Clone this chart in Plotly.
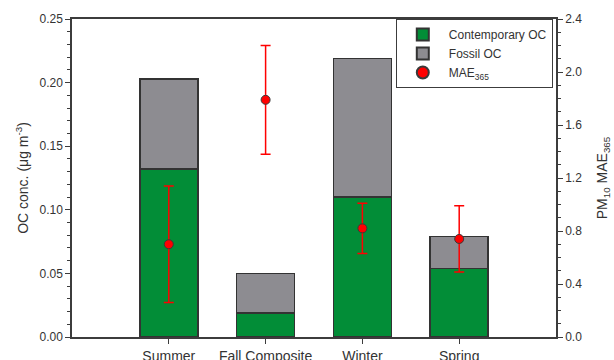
import plotly.graph_objects as go

# Seasonal organic carbon split and PM10 absorption (MAE365)
seasons = ["Summer", "Fall Composite", "Winter", "Spring"]
contemporary_oc = [0.132, 0.019, 0.110, 0.054]
fossil_oc = [0.071, 0.031, 0.109, 0.025]
mae365 = [0.70, 1.79, 0.82, 0.74]
mae365_err = [0.44, 0.41, 0.19, 0.25]

FONT = "Liberation Sans, Arial, sans-serif"
AXIS_COLOR = "#3c3c3c"
TEXT_COLOR = "#333333"

fig = go.Figure()

fig.add_trace(go.Bar(
    x=seasons, y=contemporary_oc, name="Contemporary OC",
    marker=dict(color="#028d37", line=dict(color="#333333", width=1.5)),
    width=0.6,
))
fig.add_trace(go.Bar(
    x=seasons, y=fossil_oc, name="Fossil OC",
    marker=dict(color="#8d8c91", line=dict(color="#333333", width=1.5)),
    width=0.6,
))
fig.add_trace(go.Scatter(
    x=seasons, y=mae365, name="MAE<sub>365</sub>", yaxis="y2",
    mode="markers",
    marker=dict(color="#ff0000", size=9, line=dict(color="#3a3a3a", width=1)),
    error_y=dict(type="data", array=mae365_err, color="#ff0000",
                 thickness=1.5, width=5),
))

fig.update_layout(
    width=614, height=360,
    margin=dict(l=72, r=58, t=19, b=23),
    paper_bgcolor="white", plot_bgcolor="white",
    barmode="stack",
    font=dict(family=FONT, color=TEXT_COLOR, size=12),
    showlegend=True,
    legend=dict(
        x=0.669, y=1.0, xanchor="left", yanchor="top",
        traceorder="normal",
        bgcolor="white", bordercolor="#3c3c3c", borderwidth=1,
        font=dict(size=12, family=FONT, color=TEXT_COLOR),
        itemsizing="constant", itemwidth=42,
    ),
    xaxis=dict(
        type="category", range=[-1, 4], automargin=False,
        showline=True, linecolor=AXIS_COLOR, linewidth=1.5, mirror=True,
        ticks="outside", ticklen=5, tickcolor=AXIS_COLOR, tickwidth=1,
        tickfont=dict(size=14, family=FONT, color=TEXT_COLOR),
        showgrid=False, zeroline=False,
    ),
    yaxis=dict(
        range=[0, 0.25], dtick=0.05, tickformat=".2f", automargin=False,
        showline=True, linecolor=AXIS_COLOR, linewidth=1.5,
        ticks="outside", ticklen=5, tickcolor=AXIS_COLOR, tickwidth=1,
        minor=dict(dtick=0.01, ticks="outside", ticklen=3,
                   tickcolor=AXIS_COLOR, showgrid=False),
        tickfont=dict(size=12, family=FONT, color=TEXT_COLOR),
        showgrid=False, zeroline=False,
        title=dict(text="OC conc. (μg m<sup>-3</sup>)",
                   font=dict(size=14, family=FONT, color=TEXT_COLOR),
                   standoff=8),
    ),
    yaxis2=dict(
        overlaying="y", side="right", anchor="x", automargin=False,
        range=[0, 2.4], dtick=0.4, tickformat=".1f",
        showline=True, linecolor=AXIS_COLOR, linewidth=1.5,
        ticks="outside", ticklen=5, tickcolor=AXIS_COLOR, tickwidth=1,
        minor=dict(dtick=0.1, ticks="outside", ticklen=3,
                   tickcolor=AXIS_COLOR, showgrid=False),
        tickfont=dict(size=12, family=FONT, color=TEXT_COLOR),
        showgrid=False, zeroline=False,
        title=dict(text="PM<sub>10</sub> MAE<sub>365</sub>",
                   font=dict(size=14, family=FONT, color=TEXT_COLOR),
                   standoff=16),
    ),
)

fig.write_html("out.html")
